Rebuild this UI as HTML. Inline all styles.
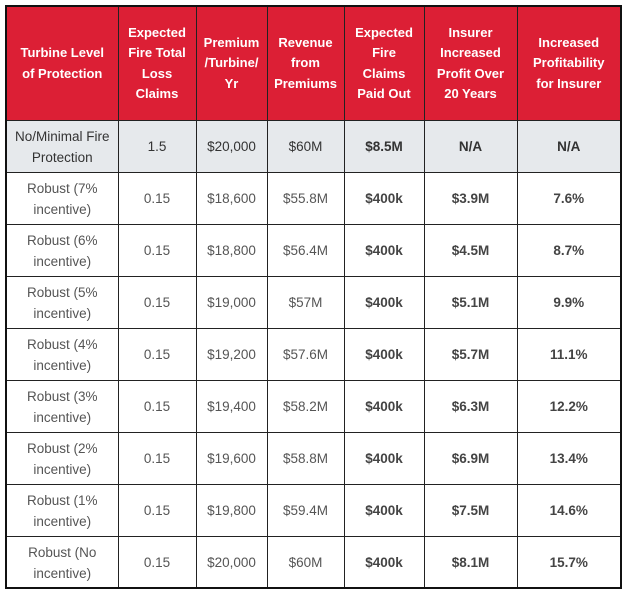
<!DOCTYPE html>
<html><head><style>
body{margin:0;background:#fff;width:630px;height:598px;overflow:hidden}
.w{position:absolute;left:5px;top:5px;width:613px;height:580px;border:2.5px solid #111;overflow:hidden}
table{border-collapse:collapse;table-layout:fixed;width:613px;font-family:"Liberation Sans",sans-serif}
td{border:1.5px solid #222;text-align:center;vertical-align:middle;font-size:13.5px;color:#555;padding:0 2px;line-height:21px;height:51px}
tr:first-child td{border-top:none}
td:first-child{border-left:none}
td:last-child{border-right:none}
tr:last-child td{border-bottom:none}
th{background:#dc1f35;color:#fff;font-weight:bold;font-size:13px;line-height:20.5px;height:113px;border:1.5px solid #222;border-top:none;padding:0 1px;white-space:nowrap}
th:first-child{border-left:none}th:last-child{border-right:none}
tr.g td{background:#e6e9ec;color:#333}
td.b{font-weight:bold;color:#444}
</style></head><body>
<div class="w"><table>
<colgroup><col style="width:111px"><col style="width:78px"><col style="width:71px"><col style="width:77px"><col style="width:80px"><col style="width:93px"><col style="width:103px"></colgroup>
<tr><th>Turbine Level<br>of Protection</th><th>Expected<br>Fire Total<br>Loss<br>Claims</th><th>Premium<br>/Turbine/<br>Yr</th><th>Revenue<br>from<br>Premiums</th><th>Expected<br>Fire<br>Claims<br>Paid Out</th><th>Insurer<br>Increased<br>Profit Over<br>20 Years</th><th>Increased<br>Profitability<br>for Insurer</th></tr>
<tr class="g"><td>No/Minimal Fire Protection</td><td>1.5</td><td>$20,000</td><td>$60M</td><td class="b">$8.5M</td><td class="b">N/A</td><td class="b">N/A</td></tr>
<tr><td>Robust (7% incentive)</td><td>0.15</td><td>$18,600</td><td>$55.8M</td><td class="b">$400k</td><td class="b">$3.9M</td><td class="b">7.6%</td></tr>
<tr><td>Robust (6% incentive)</td><td>0.15</td><td>$18,800</td><td>$56.4M</td><td class="b">$400k</td><td class="b">$4.5M</td><td class="b">8.7%</td></tr>
<tr><td>Robust (5% incentive)</td><td>0.15</td><td>$19,000</td><td>$57M</td><td class="b">$400k</td><td class="b">$5.1M</td><td class="b">9.9%</td></tr>
<tr><td>Robust (4% incentive)</td><td>0.15</td><td>$19,200</td><td>$57.6M</td><td class="b">$400k</td><td class="b">$5.7M</td><td class="b">11.1%</td></tr>
<tr><td>Robust (3% incentive)</td><td>0.15</td><td>$19,400</td><td>$58.2M</td><td class="b">$400k</td><td class="b">$6.3M</td><td class="b">12.2%</td></tr>
<tr><td>Robust (2% incentive)</td><td>0.15</td><td>$19,600</td><td>$58.8M</td><td class="b">$400k</td><td class="b">$6.9M</td><td class="b">13.4%</td></tr>
<tr><td>Robust (1% incentive)</td><td>0.15</td><td>$19,800</td><td>$59.4M</td><td class="b">$400k</td><td class="b">$7.5M</td><td class="b">14.6%</td></tr>
<tr><td>Robust (No incentive)</td><td>0.15</td><td>$20,000</td><td>$60M</td><td class="b">$400k</td><td class="b">$8.1M</td><td class="b">15.7%</td></tr>
</table></div>
</body></html>
